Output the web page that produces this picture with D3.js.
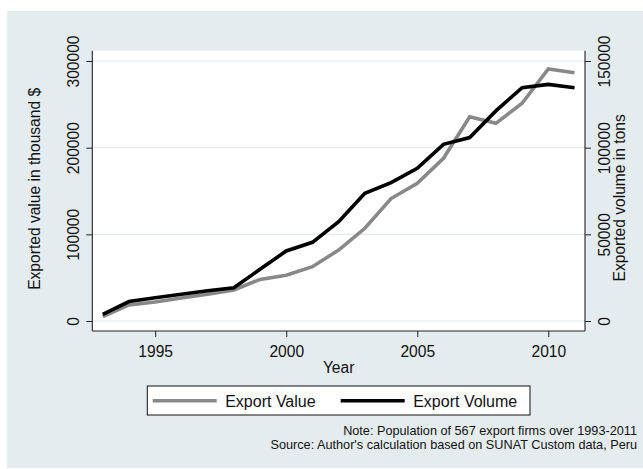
<!DOCTYPE html>
<html>
<head>
<meta charset="utf-8">
<script src="https://cdn.jsdelivr.net/npm/d3@7"></script>
<style>
  html, body { margin: 0; padding: 0; background: #ffffff; }
  svg { display: block; font-family: "Liberation Sans", Arial, sans-serif; }
</style>
</head>
<body>
<svg id="chart" width="643" height="469"></svg>
<script>
// Peruvian export firms: yearly export value and volume
const years = [1993, 1994, 1995, 1996, 1997, 1998, 1999, 2000, 2001, 2002,
               2003, 2004, 2005, 2006, 2007, 2008, 2009, 2010, 2011];
// thousand US$
const exportValue = [5000, 18500, 22000, 26500, 31000, 35800, 48000, 52700, 62700, 81900,
                     107000, 141300, 158900, 187700, 235700, 228100, 251200, 290800, 286500];
// tons
const exportVolume = [3800, 11200, 13400, 15400, 17500, 19200, 29800, 40400, 45400, 57300,
                      73700, 79800, 88100, 101900, 105800, 121200, 134600, 136500, 134600];

const xTicks = [1995, 2000, 2005, 2010];
const leftTicks = [0, 100000, 200000, 300000];
const rightTicks = [0, 50000, 100000, 150000];

const seriesNames = ["Export Value", "Export Volume"];
const notes = ["Note: Population of 567 export firms over 1993-2011",
               "Source: Author's calculation based on SUNAT Custom data, Peru"];

const svg = d3.select("#chart");
const W = 643, H = 469;
const plot = { left: 92.3, right: 585, top: 50.7, bottom: 331 };
const fontSize = 15.6;

// graph region
svg.append("rect").attr("x", 7).attr("y", 11).attr("width", W - 7).attr("height", 457)
  .attr("fill", "#e5ecef");
svg.append("rect").attr("x", plot.left).attr("y", plot.top)
  .attr("width", plot.right - plot.left).attr("height", plot.bottom - plot.top)
  .attr("fill", "#ffffff");

const x = d3.scaleLinear().domain([1992.6, 2011.4]).range([plot.left, plot.right]);
const yL = d3.scaleLinear().domain([0, 300000]).range([321, 61]);
const yR = d3.scaleLinear().domain([0, 150000]).range([321, 61]);

// horizontal grid
svg.append("g").selectAll("line").data(leftTicks).join("line")
  .attr("x1", plot.left).attr("x2", plot.right)
  .attr("y1", d => yL(d)).attr("y2", d => yL(d))
  .attr("stroke", "#e3eaed").attr("stroke-width", 1.2);

// lines
const lineV = d3.line().x((d, i) => x(years[i])).y(d => yL(d));
const lineQ = d3.line().x((d, i) => x(years[i])).y(d => yR(d));
svg.append("path").datum(exportValue).attr("d", lineV)
  .attr("fill", "none").attr("stroke", "#888888").attr("stroke-width", 3.6)
  .attr("stroke-linejoin", "miter");
svg.append("path").datum(exportVolume).attr("d", lineQ)
  .attr("fill", "none").attr("stroke", "#000000").attr("stroke-width", 3.6)
  .attr("stroke-linejoin", "miter");

function styleAxis(g) {
  g.select(".domain").remove();
  g.selectAll(".tick line").attr("stroke", "#222");
  g.selectAll("text").attr("font-size", fontSize).attr("fill", "#111")
    .attr("font-family", "Liberation Sans, Arial, sans-serif");
}

// left axis
const gL = svg.append("g").attr("transform", `translate(${plot.left},0)`)
  .call(d3.axisLeft(yL).tickValues(leftTicks).tickFormat(d3.format("d")).tickSize(6).tickPadding(0));
styleAxis(gL);
gL.selectAll(".tick text").attr("x", null).attr("dy", null).attr("y", null)
  .attr("text-anchor", "middle").attr("transform", "translate(-13.3,0) rotate(-90)");

// right axis
const gR = svg.append("g").attr("transform", `translate(${plot.right},0)`)
  .call(d3.axisRight(yR).tickValues(rightTicks).tickFormat(d3.format("d")).tickSize(6).tickPadding(0));
styleAxis(gR);
gR.selectAll(".tick text").attr("x", null).attr("dy", null).attr("y", null)
  .attr("text-anchor", "middle").attr("transform", "translate(25,0) rotate(-90)");

// bottom axis
const gB = svg.append("g").attr("transform", `translate(0,${plot.bottom})`)
  .call(d3.axisBottom(x).tickValues(xTicks).tickFormat(d3.format("d")).tickSize(6).tickPadding(0));
styleAxis(gB);
gB.selectAll(".tick text").attr("dy", null).attr("y", 25.7);

// axis lines
const axisPath = [
  [[plot.left, plot.top], [plot.left, plot.bottom]],
  [[plot.left, plot.bottom], [plot.right, plot.bottom]],
  [[plot.right, plot.top], [plot.right, plot.bottom]]
];
svg.append("g").selectAll("path").data(axisPath).join("path")
  .attr("d", d => d3.line()(d)).attr("stroke", "#222").attr("stroke-width", 1.1).attr("fill", "none");

// axis titles
const midY = (plot.top + plot.bottom) / 2;
svg.append("text").attr("transform", `translate(40,${midY - 2}) rotate(-90)`)
  .attr("text-anchor", "middle").attr("font-size", fontSize).attr("fill", "#111")
  .text("Exported value in thousand $");
svg.append("text").attr("transform", `translate(625,${midY + 7}) rotate(-90)`)
  .attr("text-anchor", "middle").attr("font-size", fontSize).attr("fill", "#111")
  .text("Exported volume in tons");
svg.append("text").attr("x", (plot.left + plot.right) / 2).attr("y", 373)
  .attr("text-anchor", "middle").attr("font-size", fontSize).attr("fill", "#111")
  .text("Year");

// legend
const legend = svg.append("g");
legend.append("rect").attr("x", 147.3).attr("y", 386).attr("width", 382.7).attr("height", 29)
  .attr("fill", "#ffffff").attr("stroke", "#111").attr("stroke-width", 1);
const legendItems = [
  { name: seriesNames[0], color: "#888888", x0: 152.7 },
  { name: seriesNames[1], color: "#000000", x0: 340.7 }
];
legendItems.forEach(it => {
  legend.append("line").attr("x1", it.x0).attr("x2", it.x0 + 64)
    .attr("y1", 400.7).attr("y2", 400.7).attr("stroke", it.color).attr("stroke-width", 3.6);
  legend.append("text").attr("x", it.x0 + 72.5).attr("y", 407.3)
    .attr("font-size", 16).attr("fill", "#111").text(it.name);
});

// notes
svg.append("g").selectAll("text").data(notes).join("text")
  .attr("x", 637).attr("y", (d, i) => 434.5 + i * 14)
  .attr("text-anchor", "end").attr("font-size", 12.7).attr("fill", "#111")
  .text(d => d);
</script>
</body>
</html>
